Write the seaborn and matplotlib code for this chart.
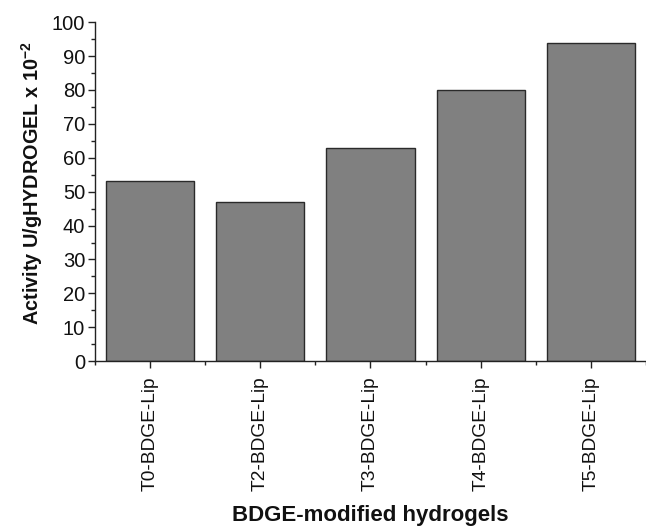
import matplotlib
matplotlib.use("Agg")
import matplotlib.pyplot as plt
from matplotlib.ticker import MultipleLocator, FixedLocator
import seaborn as sns
import pandas as pd

samples = ["T0-BDGE-Lip", "T2-BDGE-Lip", "T3-BDGE-Lip", "T4-BDGE-Lip", "T5-BDGE-Lip"]
activity = [53, 47, 63, 80, 94]

sns.set_theme(style="ticks")
plt.rcParams["font.family"] = ["Liberation Sans", "DejaVu Sans"]
plt.rcParams["mathtext.fontset"] = "custom"
plt.rcParams["mathtext.bf"] = "Liberation Sans:bold"
plt.rcParams["mathtext.rm"] = "Liberation Sans"

df = pd.DataFrame({"sample": samples, "activity": activity})

fig = plt.figure(figsize=(6.46, 5.28), dpi=100)
ax = fig.add_axes([0.147, 0.316, 0.853, 0.642])

sns.barplot(data=df, x="sample", y="activity", color="#808080", saturation=1,
            edgecolor="#2a2a2a", linewidth=1.0, width=0.8, ax=ax)

ax.set_xlim(-0.5, len(samples) - 0.5)
ax.set_ylim(0, 100)
ax.yaxis.set_major_locator(MultipleLocator(10))
ax.yaxis.set_minor_locator(MultipleLocator(5))
ax.xaxis.set_minor_locator(FixedLocator([i + 0.5 for i in range(-1, len(samples))]))

ax.tick_params(axis="both", which="major", direction="out", length=5, width=1.0,
               color="#222222", labelcolor="#111111")
ax.tick_params(axis="both", which="minor", direction="out", length=3, width=1.0,
               color="#222222")
ax.tick_params(axis="x", which="major", labelrotation=90, pad=6, labelsize=13.8)
ax.tick_params(axis="y", which="major", pad=2, labelsize=14.5)

for side in ("top", "right"):
    ax.spines[side].set_visible(False)
for side in ("left", "bottom"):
    ax.spines[side].set_linewidth(1.0)
    ax.spines[side].set_color("#222222")

ax.set_ylabel("Activity U/gHYDROGEL x 10$^{\\mathbf{-2}}$", fontsize=14.3, fontweight="bold",
              color="#111111")
ax.yaxis.set_label_coords(-0.090, 0.525)
ax.set_xlabel("BDGE-modified hydrogels", fontsize=16, fontweight="bold",
              color="#111111", labelpad=10)

fig.savefig("out.png", dpi=100, facecolor="white")
